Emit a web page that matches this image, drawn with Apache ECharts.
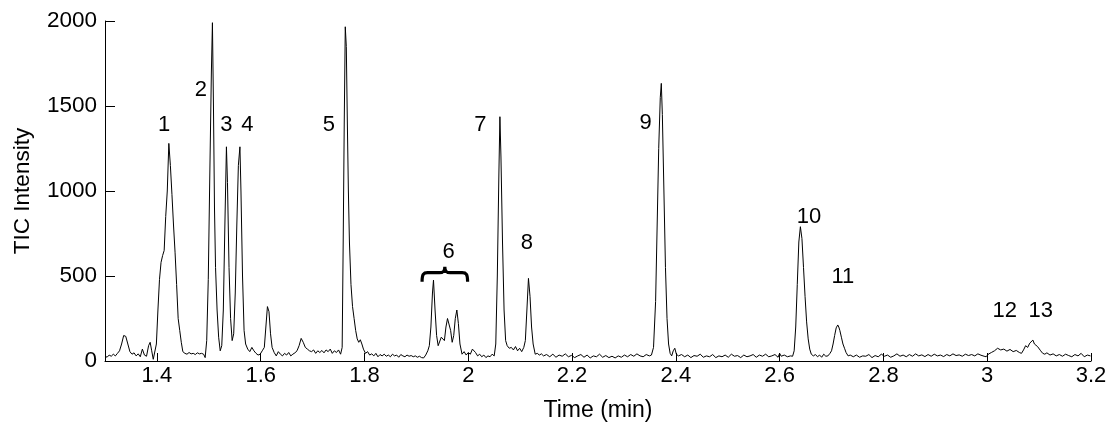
<!DOCTYPE html>
<html>
<head>
<meta charset="utf-8">
<script src="https://cdn.jsdelivr.net/npm/echarts@6/dist/echarts.min.js"></script>
<style>
html,body{margin:0;padding:0;background:#fff;}
#chart{width:1108px;height:423px;}
</style>
</head>
<body>
<div id="chart"></div>
<script>
// Retention time (min) and TIC intensity
const time = [
1.300,1.304,1.308,1.312,1.316,1.320,1.324,1.328,1.332,1.336,1.340,1.344,1.348,1.352,1.356,1.360,1.364,1.368,1.372,1.376,1.380,1.384,1.387,1.390,1.393,1.396,
1.399,1.402,1.405,1.408,1.411,1.414,1.417,1.420,1.423,1.426,1.429,1.432,1.435,1.438,1.441,1.444,1.447,1.450,1.454,1.458,1.462,1.466,1.470,1.474,1.478,1.482,1.486,1.490,1.493,
1.496,1.499,1.502,1.505,1.507,1.509,1.511,1.513,1.516,1.519,1.522,1.525,1.528,1.531,1.534,1.536,1.539,1.542,1.545,1.548,1.551,1.554,1.557,1.560,1.562,1.565,1.568,1.571,1.575,1.579,1.583,1.587,1.591,1.595,1.599,
1.603,1.607,1.610,1.613,1.616,1.619,1.622,1.626,1.630,1.634,1.638,1.642,1.646,1.650,1.654,1.658,1.662,1.666,1.670,1.674,1.678,1.682,1.686,1.690,1.694,1.698,1.702,1.706,1.710,1.714,1.718,1.722,1.726,1.730,1.734,1.738,1.742,1.746,1.750,1.754,
1.757,1.759,1.761,1.763,1.765,1.767,1.769,1.771,1.774,1.777,1.780,1.783,1.786,1.789,1.792,1.795,1.798,1.802,1.806,1.810,1.814,1.818,1.822,1.826,1.830,1.834,1.838,1.842,1.846,1.850,1.854,1.858,1.862,1.866,1.870,1.874,1.878,1.882,1.886,1.890,1.894,1.898,1.902,1.906,1.910,1.914,
1.918,1.922,1.925,1.928,1.931,1.933,1.936,1.939,1.942,1.945,1.948,1.951,1.954,1.957,1.960,1.963,1.966,1.969,1.972,1.975,1.978,1.981,1.984,1.988,1.992,1.996,2.000,2.004,2.008,2.011,2.014,2.018,2.022,2.026,2.030,2.034,2.038,2.042,2.046,2.050,
2.053,2.056,2.059,2.061,2.063,2.066,2.069,2.072,2.075,2.079,2.083,2.087,2.091,2.095,2.099,2.103,2.107,2.110,2.113,2.116,2.119,2.122,2.125,2.129,2.133,2.137,2.141,
2.145,2.151,2.157,2.163,2.169,2.175,2.181,2.187,2.193,2.199,2.205,2.211,2.217,2.223,2.229,2.235,2.241,2.247,2.253,2.259,2.265,2.271,2.277,2.283,2.289,2.295,2.301,2.307,2.313,2.319,2.325,2.331,2.337,2.343,2.349,2.353,
2.357,2.361,2.364,2.367,2.370,2.372,2.374,2.377,2.380,2.383,2.386,2.389,2.392,2.395,2.398,2.401,2.405,
2.411,2.417,2.423,2.429,2.435,2.441,2.447,2.453,2.459,2.465,2.471,2.477,2.483,2.489,2.495,2.501,2.507,2.513,2.519,2.525,2.531,2.537,2.543,2.549,2.555,2.561,2.567,2.573,2.579,2.585,2.591,2.597,2.600,2.603,2.609,2.615,2.621,2.625,
2.628,2.631,2.634,2.637,2.640,2.643,2.646,2.649,2.652,2.655,2.658,2.661,2.665,2.669,2.673,2.677,2.681,2.685,2.689,2.693,2.697,2.700,2.703,2.706,2.709,2.712,2.714,2.716,2.719,2.722,2.725,2.728,2.732,2.736,
2.742,2.748,2.754,2.760,2.766,2.772,2.778,2.784,2.790,2.796,2.802,2.808,2.814,2.820,2.826,2.832,2.838,2.844,2.850,2.856,2.862,2.868,2.874,2.880,2.886,2.892,2.898,2.904,2.910,2.916,2.922,2.928,2.934,2.940,2.946,2.952,2.958,2.964,2.970,2.976,2.982,2.988,2.994,2.998,
3.002,3.008,3.014,3.020,3.026,3.032,3.038,3.044,3.050,3.056,3.062,3.066,3.070,3.074,3.078,3.082,3.085,3.088,3.091,3.094,3.097,3.100,3.103,3.107,3.111,3.115,3.121,3.127,3.133,3.139,3.145,3.151,3.157,3.163,3.169,3.175,3.181,3.187,3.193,3.199
];
const intensity = [
30,22,35,28,40,30,45,60,100,150,145,100,55,40,48,30,42,25,70,35,28,90,110,60,10,5,
100,300,480,580,620,650,850,1000,1280,1150,980,800,640,450,250,180,110,55,45,40,50,42,45,38,48,42,45,40,20,
120,480,1100,1700,1990,1500,900,550,300,140,60,90,300,800,1260,1050,550,250,120,160,400,800,1150,1260,1000,500,180,100,70,55,80,60,45,35,40,
60,80,200,320,290,160,80,50,30,55,40,30,45,35,50,30,40,48,60,90,133,110,80,70,60,55,65,45,60,50,62,48,65,55,70,45,60,50,65,40,
80,700,1400,1966,1850,1400,1000,700,450,320,250,180,130,110,125,100,70,45,55,35,42,30,45,25,38,30,40,28,35,25,40,30,35,22,38,30,25,35,28,32,25,30,22,28,20,18,
35,60,90,200,400,476,300,150,90,100,140,150,120,200,250,255,180,110,150,250,300,220,100,40,55,35,50,40,70,78,50,30,40,25,35,20,30,25,40,30,
100,500,1100,1437,1200,700,300,120,90,75,80,65,85,60,75,55,80,120,300,486,380,200,100,40,45,35,42,
30,38,25,40,22,35,28,42,25,33,20,30,38,22,35,18,30,25,40,22,32,20,28,18,30,22,35,25,38,28,42,30,25,38,30,35,
80,350,800,1250,1550,1633,1450,1000,550,250,100,45,30,60,75,40,30,
38,25,35,20,32,28,40,22,30,25,38,20,30,25,35,22,40,28,32,20,35,25,30,38,22,35,28,40,25,30,38,22,45,28,35,25,30,28,
60,200,450,700,790,720,550,380,230,130,70,40,30,38,25,35,22,40,28,30,45,60,100,150,195,212,200,180,140,100,75,50,30,35,
25,35,22,30,28,38,20,32,25,40,28,35,22,30,42,28,35,25,38,28,42,30,36,26,38,28,40,30,35,26,38,30,42,32,36,28,40,32,38,30,42,34,28,25,
40,50,60,75,65,70,58,68,55,62,50,45,65,90,80,105,95,123,100,110,85,75,60,45,40,48,35,42,30,38,28,40,32,25,38,30,45,25,35,30
];
// Peak numbers and where their labels sit (time, intensity)
const peakLabels = ['1','2','3','4','5','6','7','8','9','10','11','12','13'];
const peakLabelTime = [1.414,1.4846,1.534,1.5744,1.7313,1.9622,2.0231,2.1129,2.3417,2.6564,2.7218,3.034,3.1033];
const peakLabelIntensity = [1388,1594,1388,1388,1388,641,1388,694,1400,847,494,296,296];
// Brace spanning peak group 6: start time, end time, intensity of its ends, intensity of its tip
const braceStart = 1.911, braceEnd = 1.9987, braceBase = 466, braceTip = 555;
// Tick labels
const xTicks = [1.4,1.6,1.8,2,2.2,2.4,2.6,2.8,3,3.2];
const yTicks = [0,500,1000,1500,2000];

const FONT = "'Liberation Sans', Arial, sans-serif";
const chart = echarts.init(document.getElementById('chart'), null, {renderer:'canvas'});
const lineData = time.map((t,i)=>[t,intensity[i]]);
const labelData = peakLabels.map((n,i)=>({name:n,value:[peakLabelTime[i],peakLabelIntensity[i]]}));

chart.setOption({
  animation:false,
  backgroundColor:'#fff',
  grid:{left:105,right:17,top:21,bottom:62,containLabel:false,outerBoundsMode:'none'},
  xAxis:{
    type:'value',min:1.3,max:3.2,
    name:'Time (min)',nameLocation:'middle',nameGap:38,
    nameTextStyle:{fontSize:23,color:'#000',fontFamily:FONT},
    axisLine:{show:true,lineStyle:{color:'#000',width:1}},
    axisTick:{show:true,inside:true,length:8,customValues:xTicks,lineStyle:{color:'#000'}},
    axisLabel:{customValues:xTicks,fontSize:22,color:'#000',fontFamily:FONT,margin:4,
      formatter:v=>String(Math.round(v*10)/10)},
    splitLine:{show:false}
  },
  yAxis:{
    type:'value',min:0,max:2000,interval:500,
    name:'TIC Intensity',nameLocation:'middle',nameGap:71,nameRotate:90,
    nameTextStyle:{fontSize:22.5,color:'#000',fontFamily:FONT},
    axisLine:{show:true,lineStyle:{color:'#000',width:1}},
    axisTick:{show:true,inside:true,length:10,customValues:yTicks,lineStyle:{color:'#000'}},
    axisLabel:{customValues:yTicks,fontSize:22.5,color:'#000',fontFamily:FONT,margin:8,
      formatter:v=>String(v)},
    splitLine:{show:false}
  },
  series:[
    {type:'line',data:lineData,showSymbol:false,symbol:'none',
     lineStyle:{color:'#000',width:1},z:3},
    {type:'scatter',data:labelData,symbolSize:0,z:4,silent:true,
     itemStyle:{opacity:1},
     label:{show:true,position:'inside',formatter:p=>p.name,fontSize:22,color:'#000',fontFamily:FONT}},
    {type:'custom',z:4,silent:true,data:[[braceStart,braceEnd,braceBase,braceTip]],
     renderItem:function(params,api){
       const p1 = api.coord([api.value(0),api.value(2)]);
       const p2 = api.coord([api.value(1),api.value(3)]);
       const w = p2[0]-p1[0], h = p1[1]-p2[1];
       return {type:'path',
         shape:{pathData:'M0 30 C0 15 3 12 12 12 L38 12 C46 12 50 10 50 0 C50 10 54 12 62 12 L88 12 C97 12 100 15 100 30',
                x:p1[0],y:p2[1],width:w,height:h,layout:'cover'},
         style:{fill:null,stroke:'#000',lineWidth:3.2}};
     }}
  ]
});
</script>
</body>
</html>
